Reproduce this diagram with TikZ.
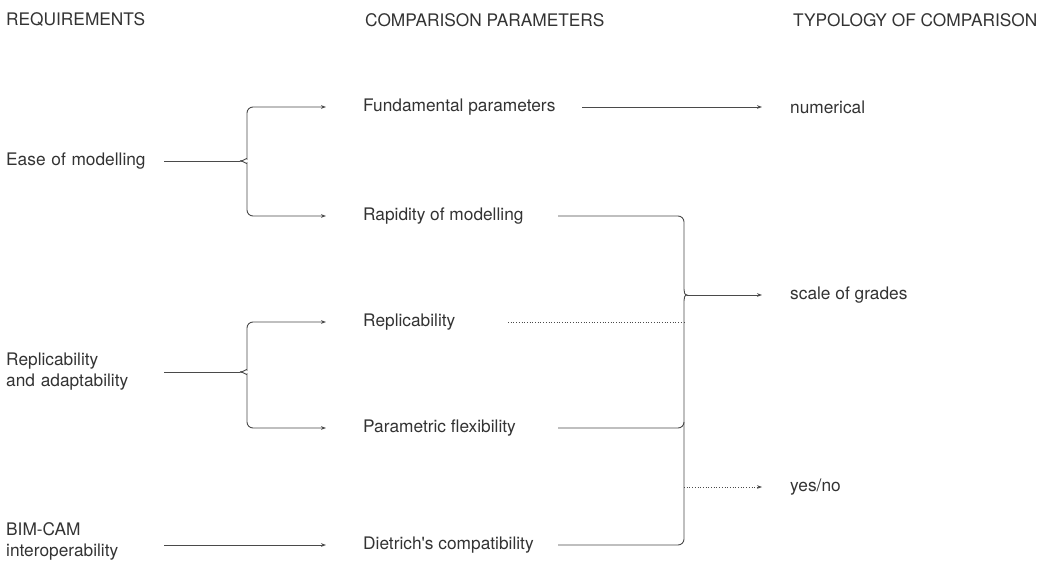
\documentclass[tikz,border=0pt]{standalone}
\usepackage{fontspec}
\setmainfont{TeX Gyre Heros}
\usetikzlibrary{arrows.meta}
\definecolor{ink}{HTML}{333333}
\definecolor{wirecol}{HTML}{4A4A4A}

\tikzset{
 txt/.style={anchor=west, inner sep=0, text=ink, font=\fontsize{17.3}{21}\selectfont},
 head/.style={anchor=west, inner sep=0, text=ink, font=\fontsize{17.3}{21}\selectfont},
 req/.style={txt, text width=158pt, align=left},
 wire/.style={draw=wirecol, line width=0.9pt},
 arr/.style={wire, -{Stealth[length=5pt,width=3.6pt]}},
 dots/.style={wire, line width=0.7pt, dash pattern=on 0.9pt off 1.8pt},
}

\begin{document}
\begin{tikzpicture}[x=1pt,y=1pt]
\useasboundingbox (0,0) rectangle (1041,-569);
% column titles
\node[head] (h1) at (6,-20) {REQUIREMENTS};
\node[head] (h2) at (365,-20) {COMPARISON PARAMETERS};
\node[head] (h3) at (793,-20) {TYPOLOGY OF COMPARISON};
% requirements
\node[req] (req1) at (6,-161) {Ease of modelling};
\node[req] (req2) at (6,-372) {Replicability\\and adaptability};
\node[req] (req3) at (6,-541) {BIM-CAM\\interoperability};
% parameters
\foreach \n/\y/\t in {par1/107/Fundamental parameters, par2/216/Rapidity of modelling,
 par3/322/Replicability, par4/428/Parametric flexibility,
 par5/545/Dietrich\textquotesingle s compatibility}
 \node[txt] (\n) at (363,-\y) {\t};
% typologies
\foreach \n/\y/\t in {num/107/numerical, grade/295/scale of grades, yn/487/{yes/no}}
 \node[txt] (\n) at (790,-\y) {\t};

\coordinate (fork1) at (240,-161);
\coordinate (fork2) at (240,-372);
\coordinate (fork3) at (687,-295);
\coordinate (spine) at (684,0);

% left braces
\draw[wire] (req1.east) -- (fork1);
\draw[wire] (req2.east) -- (fork2);
\foreach \f/\a/\b in {fork1/par1/par2, fork2/par3/par4} {
 \draw[arr, rounded corners=6] (\f) to[out=0,in=-90] ++(7,8) |- ([xshift=-37pt]\a.west);
 \draw[arr, rounded corners=6] (\f) to[out=0,in=90] ++(7,-8) |- ([xshift=-37pt]\b.west);
}
\draw[arr] (req3.east |- par5.west) -- ([xshift=-37pt]par5.west);

% right brace
\draw[arr] ([xshift=219pt]par1.west) -- ([xshift=-28pt]num.west);
\draw[wire] ([xshift=195pt]par2.west) -- ([xshift=-6pt]spine |- par2.west)
 to[out=0,in=90] ([yshift=-6pt]spine |- par2.west) -- ([yshift=6pt]spine |- fork3)
 to[out=-90,in=180] (fork3) to[out=180,in=90] ([yshift=-6pt]spine |- fork3)
 -- ([yshift=6pt]spine |- par5.west) to[out=-90,in=0] ([xshift=-6pt]spine |- par5.west)
 -- ([xshift=195pt]par5.west);
\draw[wire] ([xshift=195pt]par4.west) -- ([xshift=-6pt]spine |- par4.west)
 to[out=0,in=-90] ([yshift=6pt]spine |- par4.west);
\draw[dots] ([xshift=145pt]par3.west) -- (spine |- par3.west);
\draw[arr] (fork3) -- ([xshift=-28pt]grade.west);
\draw[arr, dots] (spine |- yn.west) -- ([xshift=-28pt]yn.west);
\end{tikzpicture}
\end{document}
